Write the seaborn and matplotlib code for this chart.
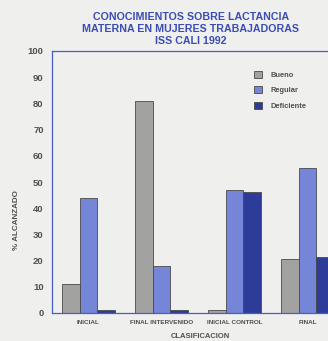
import matplotlib
matplotlib.use("Agg")
import matplotlib.pyplot as plt
import seaborn as sns
import pandas as pd
from matplotlib.ticker import MultipleLocator, FixedLocator

categories = ["INICIAL", "FINAL INTERVENIDO", "INICIAL CONTROL", "FINAL"]
series_names = ["Bueno", "Regular", "Deficiente"]
bueno = [11, 81, 1, 20.5]
regular = [44, 18, 47, 55.5]
deficiente = [1, 1, 46, 21.5]
title_lines = ["CONOCIMIENTOS SOBRE LACTANCIA", "MATERNA EN MUJERES TRABAJADORAS", "ISS CALI 1992"]
y_label = "% ALCANZADO"
x_label = "CLASIFICACION"

rows = []
for name, vals in zip(series_names, [bueno, regular, deficiente]):
    for c, v in zip(categories, vals):
        rows.append({"cat": c, "serie": name, "val": v})
df = pd.DataFrame(rows)

sns.set_theme(style="white")
plt.rcParams["font.family"] = ["Liberation Sans", "DejaVu Sans"]

bg = "#efefed"
blue_line = "#4b5cc0"
title_c = "#3a4db5"
text_c = "#505050"

fig = plt.figure(figsize=(3.28, 3.41), dpi=100, facecolor=bg)
ax = fig.add_axes([52/328, 28/341, 292/328, 262/341])
ax.set_facecolor(bg)

palette = {"Bueno": "#a2a3a1", "Regular": "#7585d8", "Deficiente": "#2d3b99"}
sns.barplot(data=df, x="cat", y="val", hue="serie", order=categories,
            hue_order=series_names, palette=palette, width=0.72,
            edgecolor="#4a4a4a", linewidth=0.6, saturation=1, ax=ax)

ax.set_xlim(-0.5, 3.5)
ax.set_ylim(0, 100)
ax.yaxis.set_major_locator(MultipleLocator(10))
ax.yaxis.set_minor_locator(MultipleLocator(5))
ax.xaxis.set_minor_locator(FixedLocator([0.5, 1.5, 2.5]))
ax.tick_params(axis="y", which="major", length=3, width=0.6, color=blue_line,
               labelsize=6.8, labelcolor=text_c, pad=3)
ax.tick_params(axis="y", which="minor", length=2, width=0.5, color=blue_line)
ax.tick_params(axis="x", which="major", length=0, labelsize=4.6, labelcolor=text_c, pad=5)
ax.tick_params(axis="x", which="minor", length=2, width=0.6, color=blue_line)
for lab in ax.get_yticklabels():
    lab.set_fontweight("bold")
for lab in ax.get_xticklabels():
    lab.set_fontweight("bold")

for side in ["top", "left", "bottom"]:
    ax.spines[side].set_visible(True)
    ax.spines[side].set_color(blue_line)
    ax.spines[side].set_linewidth(0.9)
ax.spines["right"].set_visible(False)

ax.set_ylabel(y_label, fontsize=5.8, fontweight="bold", color=text_c)
ax.yaxis.set_label_coords(-0.11, 0.355)
ax.set_xlabel(x_label, fontsize=5.5, fontweight="bold", color=text_c)
ax.xaxis.set_label_coords(0.507, -0.078)

handles, labels = ax.get_legend_handles_labels()
leg = ax.legend(handles, labels, loc="upper left", bbox_to_anchor=(250/328, 1 - 67/341),
                bbox_transform=fig.transFigure, frameon=False, fontsize=5.4,
                handlelength=1.05, handleheight=1.05, labelspacing=1.0, handletextpad=1.2,
                borderpad=0)
for t in leg.get_texts():
    t.set_fontweight("bold")
    t.set_color(text_c)

fig.text(191/328, 1 - 12.5/341, "\n".join(title_lines), ha="center", va="top",
         fontsize=7.7, fontweight="bold", color=title_c, linespacing=1.22)

fig.savefig("out.png", dpi=100, facecolor=bg)
